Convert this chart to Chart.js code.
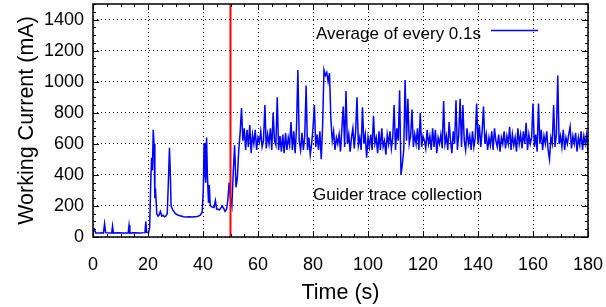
<!DOCTYPE html>
<html>
<head>
<meta charset="utf-8">
<script src="https://cdn.jsdelivr.net/npm/chart.js@4"></script>
<style>
  html, body { margin: 0; padding: 0; background: #fff; }
</style>
</head>
<body>
<canvas id="currentChart" width="606" height="307"></canvas>
<script>
// start-up part
const rampTimes = [0, 0.5, 1, 2, 3, 3.8, 4.2, 4.6, 6, 6.8, 7.1, 7.4, 9, 11, 12.8, 13.1, 13.4, 15, 17, 18.9, 19.2, 19.5,
  20.2, 20.6, 21, 21.3, 21.6, 21.9, 22.2, 22.5, 22.8, 23.2, 23.6, 24, 24.5, 25, 25.5, 26, 26.5, 27, 27.5, 27.8, 28.1, 28.4,
  29, 30, 31, 32, 33, 34, 35, 36, 37, 38, 39, 39.7, 40.1, 40.4, 40.7, 41, 41.3, 41.6, 42, 42.3, 42.6, 43, 44, 44.5, 45,
  46, 47, 47.5, 48, 48.5, 49, 49.5];
const rampValues = [30, 50, 25, 25, 28, 25, 85, 28, 25, 25, 70, 25, 28, 25, 25, 75, 25, 28, 25, 28, 100, 30,
  28, 60, 350, 510, 430, 690, 600, 250, 280, 150, 135, 140, 165, 135, 140, 130, 135, 150, 400, 575, 420, 200,
  175, 150, 140, 135, 130, 128, 130, 128, 130, 132, 140, 160, 300, 605, 400, 350, 640, 400, 220, 335, 210, 195, 190, 235, 180,
  175, 200, 185, 165, 175, 230, 350];

// guider part, one value every 0.5 s from 50 s to 180 s
const steadyStart = 50;
const steadyStep = 0.5;
const steadyValues = [
  250, 200, 420, 590, 320, 380, 560, 670, 830, 620,
  700, 560, 690, 580, 720, 540, 660, 600, 690, 560,
  640, 610, 680, 580, 620, 850, 570, 660, 600, 700,
  560, 800, 620, 590, 900, 560, 650, 550, 660, 540,
  670, 560, 640, 590, 740, 560, 680, 540, 700, 1075,
  620, 560, 670, 560, 650, 975, 560, 640, 530, 600,
  700, 850, 580, 660, 560, 680, 500, 720, 1075, 1040,
  1060, 1000, 1055, 760, 620, 680, 560, 640, 600, 660,
  550, 700, 840, 580, 940, 600, 660, 550, 640, 700,
  570, 680, 900, 590, 640, 560, 835, 600, 660, 510,
  640, 580, 660, 560, 780, 600, 640, 540, 680, 560,
  700, 580, 620, 530, 660, 600, 680, 570, 640, 850,
  560, 700, 620, 945, 400, 470, 560, 1010, 620, 890,
  600, 650, 820, 580, 660, 600, 700, 560, 800, 580,
  650, 620, 570, 690, 600, 650, 560, 700, 580, 690,
  540, 640, 600, 660, 570, 875, 600, 650, 560, 740,
  620, 540, 680, 600, 880, 560, 660, 890, 580, 850,
  620, 560, 700, 600, 650, 560, 680, 580, 640, 860,
  600, 720, 580, 680, 840, 600, 660, 560, 640, 590,
  680, 560, 700, 620, 580, 660, 550, 640, 600, 680,
  570, 650, 600, 710, 560, 660, 590, 640, 550, 700,
  600, 660, 570, 680, 600, 735, 560, 660, 600, 640,
  860, 580, 660, 550, 860, 600, 690, 560, 650, 600,
  680, 560, 500, 640, 600, 850, 580, 660, 1040, 600,
  650, 580, 690, 560, 640, 600, 660, 710, 570, 650,
  600, 670, 550, 640, 590, 680, 560, 650, 600, 660,
  530
];

const xTicks = [0, 20, 40, 60, 80, 100, 120, 140, 160, 180];
const yTicks = [0, 200, 400, 600, 800, 1000, 1200, 1400];
const markerTime = 50;
const seriesLabel = 'Average of every 0.1s';
const phaseLabel = 'Guider trace collection';

const points = rampTimes.map((t, i) => ({ x: t, y: rampValues[i] }))
  .concat(steadyValues.map((v, i) => ({ x: steadyStart + i * steadyStep, y: v })));

const FONT = '"Liberation Sans", Arial, sans-serif';

// gnuplot-like frame: inward ticks on all four sides, red marker, labels
const framePlugin = {
  id: 'frame',
  afterDraw(chart) {
    const { ctx, chartArea: a, scales: { x, y } } = chart;
    ctx.save();

    // marker line at the start of the guider phase
    const mx = x.getPixelForValue(markerTime);
    ctx.strokeStyle = '#ff0000';
    ctx.lineWidth = 2;
    ctx.beginPath();
    ctx.moveTo(mx, a.top);
    ctx.lineTo(mx, a.bottom);
    ctx.stroke();

    ctx.strokeStyle = '#000';
    ctx.lineWidth = 1;
    ctx.beginPath();
    const tickX = (v, len) => {
      const px = Math.round(x.getPixelForValue(v)) + 0.5;
      ctx.moveTo(px, a.bottom); ctx.lineTo(px, a.bottom - len);
      ctx.moveTo(px, a.top); ctx.lineTo(px, a.top + len);
    };
    const tickY = (v, len) => {
      const py = Math.round(y.getPixelForValue(v)) + 0.5;
      ctx.moveTo(a.left, py); ctx.lineTo(a.left + len, py);
      ctx.moveTo(a.right, py); ctx.lineTo(a.right - len, py);
    };
    xTicks.forEach((v, i) => {
      tickX(v, 6);
      if (i < xTicks.length - 1) {
        const step = (xTicks[i + 1] - v) / 4;
        for (let k = 1; k < 4; k++) tickX(v + k * step, 3);
      }
    });
    yTicks.forEach((v, i) => {
      tickY(v, 6);
      const next = i < yTicks.length - 1 ? yTicks[i + 1] : y.max;
      const step = (yTicks[1] - yTicks[0]) / 4;
      for (let k = 1; k < 4 && v + k * step < next + 0.01; k++) tickY(v + k * step, 3);
    });
    ctx.stroke();

    ctx.lineWidth = 1.5;
    ctx.strokeRect(a.left, a.top, a.right - a.left, a.bottom - a.top);

    // key
    ctx.fillStyle = '#000';
    ctx.font = '17px ' + FONT;
    ctx.textBaseline = 'middle';
    ctx.textAlign = 'right';
    ctx.fillText(seriesLabel, a.left + 388, a.top + 30);
    ctx.strokeStyle = '#0000ff';
    ctx.lineWidth = 1.5;
    ctx.beginPath();
    ctx.moveTo(a.left + 398, a.top + 26.5);
    ctx.lineTo(a.left + 445, a.top + 26.5);
    ctx.stroke();

    ctx.textAlign = 'left';
    ctx.fillText(phaseLabel, a.left + 220, a.top + 191);
    ctx.restore();
  }
};

new Chart(document.getElementById('currentChart').getContext('2d'), {
  type: 'line',
  data: {
    datasets: [{
      label: seriesLabel,
      data: points,
      borderColor: '#0000ff',
      borderWidth: 1.5,
      pointRadius: 0,
      fill: false,
      tension: 0
    }]
  },
  options: {
    responsive: false,
    animation: false,
    layout: { padding: { top: 4, right: 18, left: 0, bottom: 0 } },
    plugins: { legend: { display: false }, tooltip: { enabled: false } },
    scales: {
      x: {
        type: 'linear',
        min: 0,
        max: 180,
        afterBuildTicks: (s) => { s.ticks = xTicks.map(v => ({ value: v })); },
        afterFit: (s) => { s.height = 70; s.paddingLeft = 0; s.paddingRight = 0; },
        ticks: { color: '#000', padding: 17, maxRotation: 0, font: { family: FONT, size: 18 }, callback: (v) => String(v) },
        grid: { color: '#000', lineWidth: 1, drawTicks: false },
        border: { display: false, dash: [1, 3] },
        title: { display: true, text: 'Time (s)', color: '#000', font: { family: FONT, size: 21.5 }, padding: { top: 0, bottom: 1 } }
      },
      y: {
        min: 0,
        max: 1500,
        afterBuildTicks: (s) => { s.ticks = yTicks.map(v => ({ value: v })); },
        afterFit: (s) => { s.width = 93; s.paddingTop = 0; s.paddingBottom = 0; },
        ticks: { color: '#000', padding: 9, font: { family: FONT, size: 18 }, callback: (v) => String(v) },
        grid: { color: '#000', lineWidth: 1, drawTicks: false },
        border: { display: false, dash: [1, 3] },
        title: { display: true, text: 'Working Current (mA)', color: '#000', font: { family: FONT, size: 21.5 }, padding: { top: 14, bottom: 0 } }
      }
    }
  },
  plugins: [framePlugin]
});
</script>
</body>
</html>
